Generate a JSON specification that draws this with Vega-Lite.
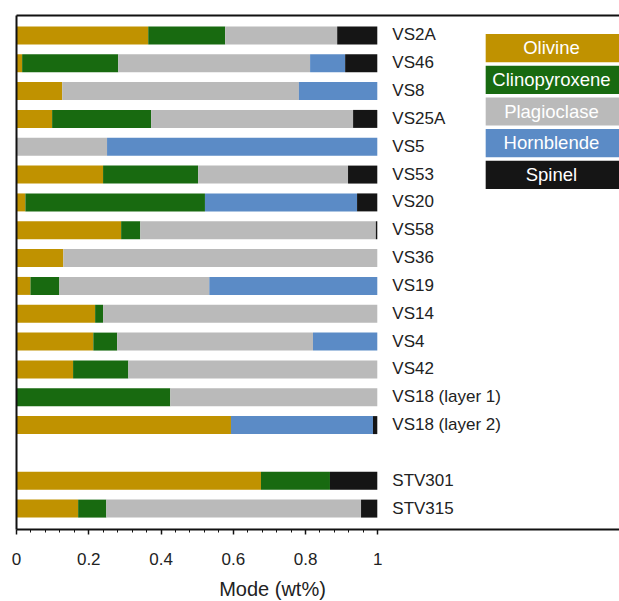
{
  "$schema": "https://vega.github.io/schema/vega-lite/v6.json",
  "width": 603,
  "height": 514,
  "autosize": {"type": "none"},
  "padding": {"left": 16, "top": 15, "right": 0, "bottom": 72},
  "config": {"font": "Liberation Sans", "view": {"stroke": null}},
  "datasets": {
    "modes": [
      {"sample": "VS2A", "Olivine": 0.366, "Clinopyroxene": 0.213, "Plagioclase": 0.310, "Hornblende": 0, "Spinel": 0.111},
      {"sample": "VS46", "Olivine": 0.017, "Clinopyroxene": 0.266, "Plagioclase": 0.531, "Hornblende": 0.097, "Spinel": 0.089},
      {"sample": "VS8", "Olivine": 0.128, "Clinopyroxene": 0, "Plagioclase": 0.655, "Hornblende": 0.217, "Spinel": 0},
      {"sample": "VS25A", "Olivine": 0.100, "Clinopyroxene": 0.274, "Plagioclase": 0.559, "Hornblende": 0, "Spinel": 0.067},
      {"sample": "VS5", "Olivine": 0, "Clinopyroxene": 0, "Plagioclase": 0.252, "Hornblende": 0.748, "Spinel": 0},
      {"sample": "VS53", "Olivine": 0.241, "Clinopyroxene": 0.263, "Plagioclase": 0.415, "Hornblende": 0, "Spinel": 0.081},
      {"sample": "VS20", "Olivine": 0.026, "Clinopyroxene": 0.497, "Plagioclase": 0, "Hornblende": 0.421, "Spinel": 0.056},
      {"sample": "VS58", "Olivine": 0.291, "Clinopyroxene": 0.053, "Plagioclase": 0.652, "Hornblende": 0, "Spinel": 0.004},
      {"sample": "VS36", "Olivine": 0.131, "Clinopyroxene": 0, "Plagioclase": 0.869, "Hornblende": 0, "Spinel": 0},
      {"sample": "VS19", "Olivine": 0.040, "Clinopyroxene": 0.080, "Plagioclase": 0.415, "Hornblende": 0.465, "Spinel": 0},
      {"sample": "VS14", "Olivine": 0.219, "Clinopyroxene": 0.022, "Plagioclase": 0.759, "Hornblende": 0, "Spinel": 0},
      {"sample": "VS4", "Olivine": 0.214, "Clinopyroxene": 0.066, "Plagioclase": 0.542, "Hornblende": 0.178, "Spinel": 0},
      {"sample": "VS42", "Olivine": 0.158, "Clinopyroxene": 0.153, "Plagioclase": 0.689, "Hornblende": 0, "Spinel": 0},
      {"sample": "VS18 (layer 1)", "Olivine": 0, "Clinopyroxene": 0.427, "Plagioclase": 0.573, "Hornblende": 0, "Spinel": 0},
      {"sample": "VS18 (layer 2)", "Olivine": 0.595, "Clinopyroxene": 0, "Plagioclase": 0, "Hornblende": 0.393, "Spinel": 0.012},
      {"sample": "STV301", "Olivine": 0.678, "Clinopyroxene": 0.191, "Plagioclase": 0, "Hornblende": 0, "Spinel": 0.131},
      {"sample": "STV315", "Olivine": 0.172, "Clinopyroxene": 0.078, "Plagioclase": 0.705, "Hornblende": 0, "Spinel": 0.045}
    ],
    "minerals": [
      {"mineral": "Olivine"},
      {"mineral": "Clinopyroxene"},
      {"mineral": "Plagioclase"},
      {"mineral": "Hornblende"},
      {"mineral": "Spinel"}
    ]
  },
  "resolve": {
    "scale": {"y": "independent"},
    "axis": {"x": "independent", "y": "independent"}
  },
  "layer": [
    {
      "data": {"name": "modes"},
      "transform": [
        {"fold": ["Olivine", "Clinopyroxene", "Plagioclase", "Hornblende", "Spinel"], "as": ["mineral", "fraction"]},
        {"calculate": "indexof(['Olivine','Clinopyroxene','Plagioclase','Hornblende','Spinel'], datum.mineral)", "as": "rank"}
      ],
      "mark": {"type": "bar"},
      "encoding": {
        "y": {
          "field": "sample",
          "type": "nominal",
          "scale": {
            "type": "band",
            "domain": ["VS2A", "VS46", "VS8", "VS25A", "VS5", "VS53", "VS20", "VS58", "VS36", "VS19", "VS14", "VS4", "VS42", "VS18 (layer 1)", "VS18 (layer 2)", " ", "STV301", "STV315"],
            "paddingInner": 0.354,
            "paddingOuter": 0.41
          },
          "axis": {
            "orient": "left",
            "labels": false,
            "ticks": false,
            "title": null,
            "domainColor": "#111111",
            "domainWidth": 2,
            "zindex": 1
          }
        },
        "x": {
          "field": "fraction",
          "type": "quantitative",
          "stack": "zero",
          "scale": {"domain": [0, 1.669], "nice": false, "zero": true},
          "axis": {
            "orient": "bottom",
            "values": [0, 0.2, 0.4, 0.6, 0.8, 1],
            "labelExpr": "'' + datum.value",
            "labelFlush": false,
            "grid": false,
            "domainColor": "#111111",
            "domainWidth": 2,
            "tickColor": "#111111",
            "tickWidth": 1.5,
            "tickSize": 5,
            "labelFontSize": 17,
            "labelColor": "#222222",
            "labelPadding": 17,
            "title": "Mode (wt%)",
            "titleFontSize": 20,
            "titleFontWeight": "normal",
            "titleColor": "#222222",
            "titlePadding": 12,
            "titleX": 256,
            "zindex": 1
          }
        },
        "color": {
          "field": "mineral",
          "type": "nominal",
          "scale": {
            "domain": ["Olivine", "Clinopyroxene", "Plagioclase", "Hornblende", "Spinel"],
            "range": ["#C09200", "#186A10", "#BABABA", "#5B8BC6", "#151515"]
          },
          "legend": null
        },
        "order": {"field": "rank", "type": "quantitative"}
      }
    },
    {
      "data": {"name": "modes"},
      "mark": {"type": "text", "align": "left", "baseline": "middle", "dx": 15, "fontSize": 17, "color": "#222222"},
      "encoding": {
        "y": {
          "field": "sample",
          "type": "nominal",
          "scale": {
            "type": "band",
            "domain": ["VS2A", "VS46", "VS8", "VS25A", "VS5", "VS53", "VS20", "VS58", "VS36", "VS19", "VS14", "VS4", "VS42", "VS18 (layer 1)", "VS18 (layer 2)", " ", "STV301", "STV315"],
            "paddingInner": 0.354,
            "paddingOuter": 0.41
          },
          "axis": null
        },
        "x": {
          "datum": 1,
          "type": "quantitative",
          "axis": {
            "orient": "bottom",
            "values": [0.04, 0.08, 0.12, 0.16, 0.24, 0.28, 0.32, 0.36, 0.44, 0.48, 0.52, 0.56, 0.64, 0.68, 0.72, 0.76, 0.84, 0.88, 0.92, 0.96],
            "domain": false,
            "labels": false,
            "grid": false,
            "tickColor": "#111111",
            "tickWidth": 1,
            "tickSize": 3,
            "title": null
          }
        },
        "text": {"field": "sample"}
      }
    },
    {
      "data": {"name": "minerals"},
      "mark": {"type": "rect"},
      "encoding": {
        "y": {
          "field": "mineral",
          "type": "nominal",
          "scale": {
            "type": "band",
            "domain": ["Olivine", "Clinopyroxene", "Plagioclase", "Hornblende", "Spinel"],
            "range": [19, 174],
            "paddingInner": 0.111,
            "paddingOuter": 0
          },
          "axis": null
        },
        "x": {
          "datum": 1.3,
          "type": "quantitative",
          "axis": {
            "orient": "top",
            "domain": true,
            "domainColor": "#111111",
            "domainWidth": 1.8,
            "ticks": false,
            "labels": false,
            "grid": false,
            "title": null
          }
        },
        "x2": {"datum": 1.669},
        "color": {"field": "mineral", "type": "nominal", "legend": null}
      }
    },
    {
      "data": {"name": "minerals"},
      "mark": {"type": "text", "align": "center", "baseline": "middle", "fontSize": 18.5, "color": "#FFFFFF"},
      "encoding": {
        "y": {
          "field": "mineral",
          "type": "nominal",
          "scale": {
            "type": "band",
            "domain": ["Olivine", "Clinopyroxene", "Plagioclase", "Hornblende", "Spinel"],
            "range": [19, 174],
            "paddingInner": 0.111,
            "paddingOuter": 0
          },
          "axis": null
        },
        "x": {"datum": 1.482, "type": "quantitative", "axis": null},
        "text": {"field": "mineral"}
      }
    }
  ]
}
